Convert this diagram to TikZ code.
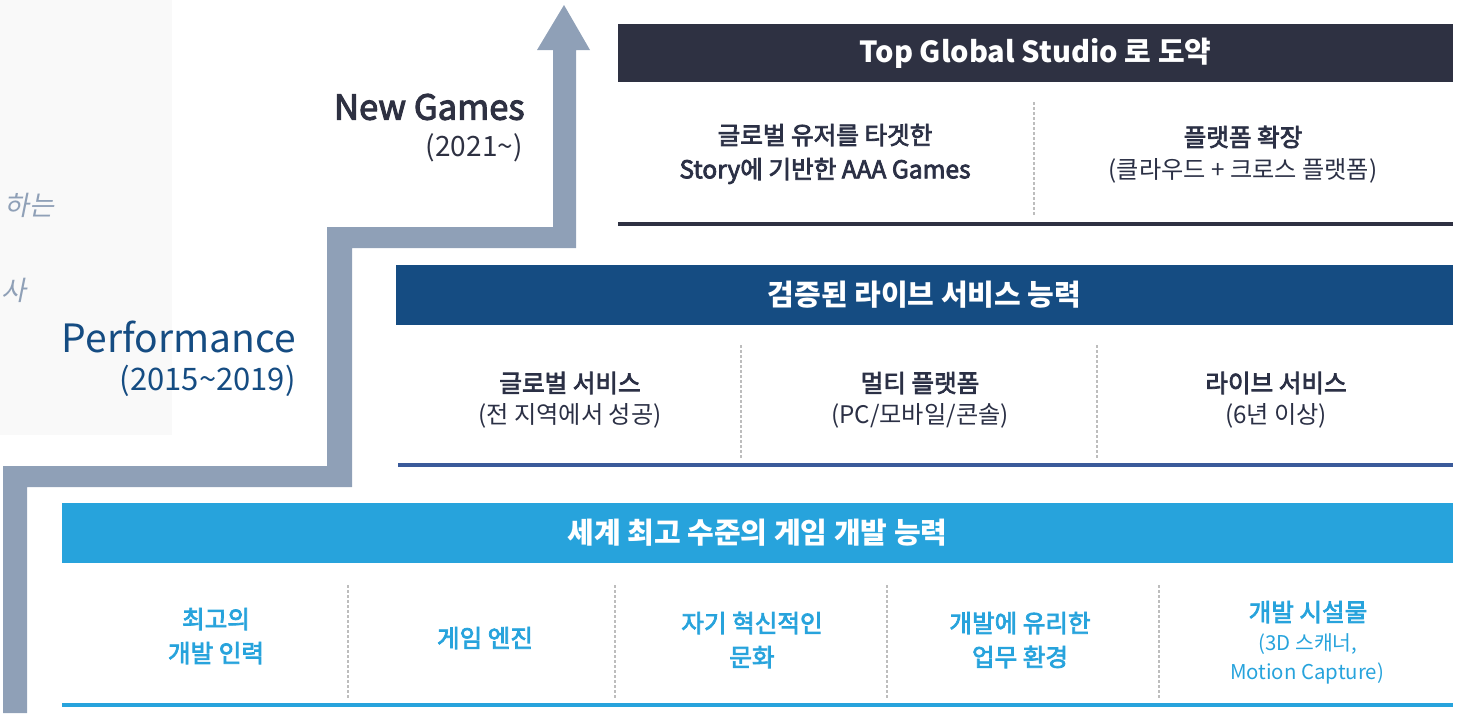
\documentclass[tikz,border=0pt]{standalone}
\usepackage{fontspec}
\setmainfont{Noto Sans CJK KR}
\newfontfamily\medfont{Noto Sans CJK KR}[FakeBold=3]
\newfontfamily\slfont{Noto Sans CJK KR}[FakeSlant=0.2]
\definecolor{arrowc}{HTML}{8FA0B7}
\definecolor{topc}{HTML}{2E3142}
\definecolor{midc}{HTML}{154C82}
\definecolor{midline}{HTML}{3A5A9A}
\definecolor{botc}{HTML}{27A3DC}
\definecolor{bgmap}{HTML}{F9F9F9}
\definecolor{dark}{HTML}{2B3045}
\definecolor{divc}{HTML}{BDBDBD}
\tikzset{
  bar/.style={inner sep=0pt, text=white, font=\fontsize{14.5}{17}\selectfont\bfseries},
  divider/.style={draw=divc, line width=0.6pt, dash pattern=on 1.5pt off 1pt},
  titleA/.style={font=\medfont\fontsize{12.3}{17}\selectfont, align=center, inner sep=0pt},
  subA/.style={font=\fontsize{12.1}{17}\selectfont, align=center, inner sep=0pt},
  lbl/.style={anchor=east, inner sep=0pt},
}
\begin{document}
\begin{tikzpicture}[x=0.5pt,y=-0.5pt]
\useasboundingbox (0,0) rectangle (1460,713);
% faint background map area
\fill[bgmap] (0,0) rectangle (172,435);
\node[anchor=east, inner sep=0pt, text=arrowc, font=\slfont\fontsize{13.5}{16}\selectfont] (faint1) at (55,205) {하는};
\node[anchor=west, inner sep=0pt, text=arrowc, font=\slfont\fontsize{13.5}{16}\selectfont] (faint2) at (1,290) {사};
% stair arrow
\fill[arrowc] (3,713) -- (3,466) -- (327,466) -- (327,227) -- (553,227) -- (553,50)
  -- (537,50) -- (564,5) -- (590,50) -- (576,50) -- (576,248) -- (352,248)
  -- (352,487) -- (27,487) -- (27,713) -- cycle;
% stage labels
\node[lbl, text=topc, font=\medfont\fontsize{17.3}{20}\selectfont] (ng) at (525,107) {New Games};
\node[lbl, text=topc, font=\fontsize{14}{16}\selectfont] (ngy) at (523,148) {(2021\textasciitilde)};
\node[lbl, text=midc, font=\fontsize{19.5}{22}\selectfont] (pf) at (296,337) {Performance};
\node[lbl, text=midc, font=\fontsize{15.5}{18}\selectfont] (pfy) at (296,381) {(2015\textasciitilde2019)};

% ---------- top section ----------
\node[bar, fill=topc, minimum width=417.5pt, minimum height=29pt] (topbar) at (1035.5,53) {Top Global Studio 로 도약};
\draw[topc, line width=2pt] (618,224) -- (1453,224);
\draw[divider] (1034,102) -- (1034,216);
\node[titleA, text=dark] (t1) at (825,154) {글로벌 유저를 타겟한\\Story에 기반한 AAA Games};
\node[titleA, text=dark] (t2a) at (1243,137) {플랫폼 확장};
\node[subA, text=dark] (t2b) at (1243,171) {(클라우드 + 크로스 플랫폼)};

% ---------- middle section ----------
\node[bar, fill=midc, minimum width=528.5pt, minimum height=30pt] (midbar) at (924.5,295) {검증된 라이브 서비스 능력};
\draw[midline, line width=2pt] (398,465) -- (1453,465);
\draw[divider] (741,345) -- (741,458);
\draw[divider] (1097,345) -- (1097,458);
\node[titleA, text=dark] (m1a) at (570,383) {글로벌 서비스};
\node[subA, text=dark] (m1b) at (570,416) {(전 지역에서 성공)};
\node[titleA, text=dark] (m2a) at (920,383) {멀티 플랫폼};
\node[subA, text=dark] (m2b) at (920,416) {(PC/모바일/콘솔)};
\node[titleA, text=dark] (m3a) at (1276,383) {라이브 서비스};
\node[subA, text=dark] (m3b) at (1276,416) {(6년 이상)};

% ---------- bottom section ----------
\node[bar, fill=botc, minimum width=695.5pt, minimum height=30pt] (botbar) at (757.5,533) {세계 최고 수준의 게임 개발 능력};
\draw[botc, line width=2pt] (62,705) -- (1453,705);
\draw[divider] (348,585) -- (348,698);
\draw[divider] (615,585) -- (615,698);
\draw[divider] (887,585) -- (887,698);
\draw[divider] (1159,585) -- (1159,698);
\node[titleA, text=botc] (b1) at (216,636) {최고의\\개발 인력};
\node[titleA, text=botc] (b2) at (485,638) {게임 엔진};
\node[titleA, text=botc] (b3) at (752,640) {자기 혁신적인\\문화};
\node[titleA, text=botc] (b4) at (1020,640) {개발에 유리한\\업무 환경};
\node[titleA, text=botc] (b5a) at (1308,612) {개발 시설물};
\node[subA, text=botc, font=\fontsize{10.2}{12}\selectfont] (b5b) at (1308,644) {(3D 스캐너,};
\node[subA, text=botc, font=\fontsize{10.2}{12}\selectfont] (b5c) at (1307,673) {Motion Capture)};
\end{tikzpicture}
\end{document}
